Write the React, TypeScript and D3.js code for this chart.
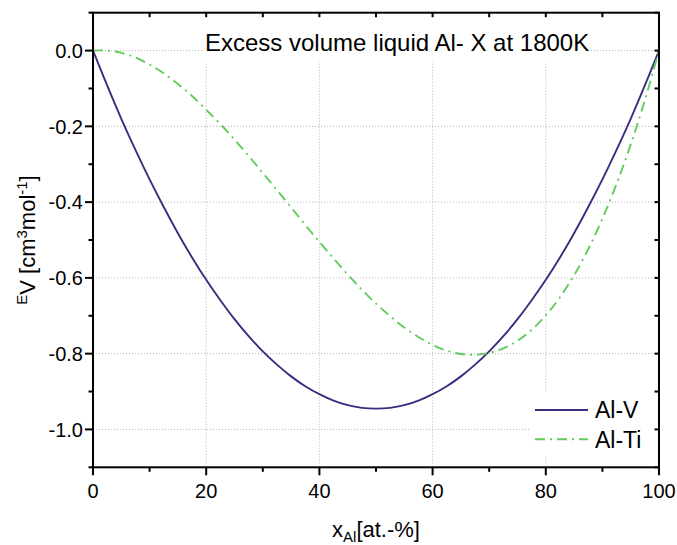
import React from "react";
import * as d3 from "d3";

// Composition grid, at.-% Al
const xAl: number[] = [
  0, 2.5, 5, 7.5, 10, 12.5, 15, 17.5, 20, 22.5, 25, 27.5, 30, 32.5, 35, 37.5, 40, 42.5, 45, 47.5,
  50, 52.5, 55, 57.5, 60, 62.5, 65, 67.5, 70, 72.5, 75, 77.5, 80, 82.5, 85, 87.5, 90, 92.5, 95, 97.5, 100,
];

// Excess volume of liquid Al-V, cm^3/mol
const alV: number[] = [
  0, -0.092, -0.18, -0.262, -0.34, -0.413, -0.482, -0.546, -0.605, -0.659, -0.709, -0.754, -0.794,
  -0.829, -0.86, -0.886, -0.907, -0.924, -0.936, -0.943, -0.945, -0.943, -0.936, -0.924, -0.907,
  -0.886, -0.86, -0.829, -0.794, -0.754, -0.709, -0.659, -0.605, -0.546, -0.482, -0.413, -0.34,
  -0.262, -0.18, -0.092, 0,
];

// Excess volume of liquid Al-Ti, cm^3/mol
const alTi: number[] = [
  0, 0, -0.006, -0.018, -0.037, -0.06, -0.088, -0.12, -0.156, -0.194, -0.235, -0.278, -0.323,
  -0.368, -0.414, -0.46, -0.505, -0.549, -0.591, -0.631, -0.668, -0.701, -0.731, -0.756, -0.777,
  -0.792, -0.801, -0.803, -0.798, -0.786, -0.766, -0.737, -0.699, -0.651, -0.593, -0.524, -0.444,
  -0.352, -0.248, -0.131, 0,
];

const xMajor = [0, 20, 40, 60, 80, 100];
const xMinor = [10, 30, 50, 70, 90];
const yMajor = [0, -0.2, -0.4, -0.6, -0.8, -1.0];
const yMinor = [0.1, -0.1, -0.3, -0.5, -0.7, -0.9, -1.1];

const titleText = "Excess volume liquid Al- X at 1800K";
const seriesNames = ["Al-V", "Al-Ti"];

const W = 677;
const H = 545;
const left = 93;
const right = 659;
const top = 12.7;
const bottom = 467.3;

const FONT = "'Liberation Sans', Arial, Helvetica, sans-serif";
const PURPLE = "#3c2c80";
const GREEN = "#62cc5a";

export default function App() {
  const x = d3.scaleLinear().domain([0, 100]).range([left, right]);
  const y = d3.scaleLinear().domain([-1.1, 0.1]).range([bottom, top]);

  const line = d3
    .line<number>()
    .x((_, i) => x(xAl[i]))
    .y((d) => y(d))
    .curve(d3.curveCatmullRom);

  const allY = [...yMajor, ...yMinor];
  const allX = [...xMajor, ...xMinor];

  return (
    <svg
      width={W}
      height={H}
      style={{ position: "fixed", left: 0, top: 0, background: "#fff" }}
      fontFamily={FONT}
    >
      <rect x={0} y={0} width={W} height={H} fill="#fff" />
      <defs>
        <clipPath id="plot-clip">
          <rect x={left} y={top} width={right - left} height={bottom - top} />
        </clipPath>
      </defs>

      {/* grid */}
      <g stroke="#b4b4b4" strokeWidth={1} strokeDasharray="1,2">
        {xMajor
          .filter((v) => v > 0 && v < 100)
          .map((v) => (
            <line key={"gx" + v} x1={x(v)} x2={x(v)} y1={top} y2={bottom} />
          ))}
        {yMajor.map((v) => (
          <line key={"gy" + v} x1={left} x2={right} y1={y(v)} y2={y(v)} />
        ))}
      </g>

      {/* title and legend backgrounds */}
      <rect x={202} y={top + 1} width={387} height={48} fill="#fff" />
      <rect x={530} y={393} width={128} height={62} fill="#fff" />

      <text x={205} y={50.7} fontSize={24} fill="#000">
        {titleText}
      </text>

      {/* curves */}
      <g clipPath="url(#plot-clip)" fill="none">
        <path d={line(alV) || ""} stroke={PURPLE} strokeWidth={1.9} />
        <path d={line(alTi) || ""} stroke={GREEN} strokeWidth={1.9} strokeDasharray="10,5,2,5" />
      </g>

      {/* legend */}
      <g>
        <line x1={535} x2={588} y1={410} y2={410} stroke={PURPLE} strokeWidth={1.9} />
        <text x={595} y={418} fontSize={23} fill="#000">
          {seriesNames[0]}
        </text>
        <line x1={535} x2={588} y1={439.3} y2={439.3} stroke={GREEN} strokeWidth={1.9} strokeDasharray="10,5,2,5" />
        <text x={595} y={447.5} fontSize={23} fill="#000">
          {seriesNames[1]}
        </text>
      </g>

      {/* frame */}
      <rect x={left} y={top} width={right - left} height={bottom - top} fill="none" stroke="#000" strokeWidth={2} />

      {/* bottom axis ticks (outward) and top ticks (inward) */}
      <g stroke="#000" strokeWidth={2}>
        {xMajor.map((v) => (
          <line key={"bx" + v} x1={x(v)} x2={x(v)} y1={bottom} y2={bottom + 8} />
        ))}
        {xMinor.map((v) => (
          <line key={"bm" + v} x1={x(v)} x2={x(v)} y1={bottom} y2={bottom + 4.5} />
        ))}
        {allX.map((v) => (
          <line key={"tx" + v} x1={x(v)} x2={x(v)} y1={top} y2={top + 4.5} />
        ))}
        {yMajor.map((v) => (
          <line key={"ly" + v} x1={left} x2={left - 8} y1={y(v)} y2={y(v)} />
        ))}
        {yMinor.map((v) => (
          <line key={"lm" + v} x1={left} x2={left - 4.5} y1={y(v)} y2={y(v)} />
        ))}
        {allY.map((v) => (
          <line key={"ry" + v} x1={right} x2={right - 4.5} y1={y(v)} y2={y(v)} />
        ))}
      </g>

      {/* tick labels */}
      <g fontSize={20} fill="#000">
        {xMajor.map((v) => (
          <text key={"xl" + v} x={x(v)} y={497.7} textAnchor="middle">
            {d3.format("d")(v)}
          </text>
        ))}
        {yMajor.map((v) => (
          <text key={"yl" + v} x={83} y={y(v) + 7.2} textAnchor="end">
            {d3.format(".1f")(v).replace("−", "-")}
          </text>
        ))}
      </g>

      {/* axis titles */}
      <text x={376} y={537} textAnchor="middle" fontSize={22} fill="#000">
        <tspan>x</tspan>
        <tspan dy={5} fontSize={15}>Al</tspan>
        <tspan dy={-5}>[at.-%]</tspan>
      </text>
      <text transform="translate(35,240) rotate(-90)" textAnchor="middle" fontSize={22} fill="#000">
        <tspan dy={-8} fontSize={15}>E</tspan>
        <tspan dy={8}>V [cm</tspan>
        <tspan dy={-8} fontSize={15}>3</tspan>
        <tspan dy={8}>mol</tspan>
        <tspan dy={-8} fontSize={15}>-1</tspan>
        <tspan dy={8}>]</tspan>
      </text>
    </svg>
  );
}
